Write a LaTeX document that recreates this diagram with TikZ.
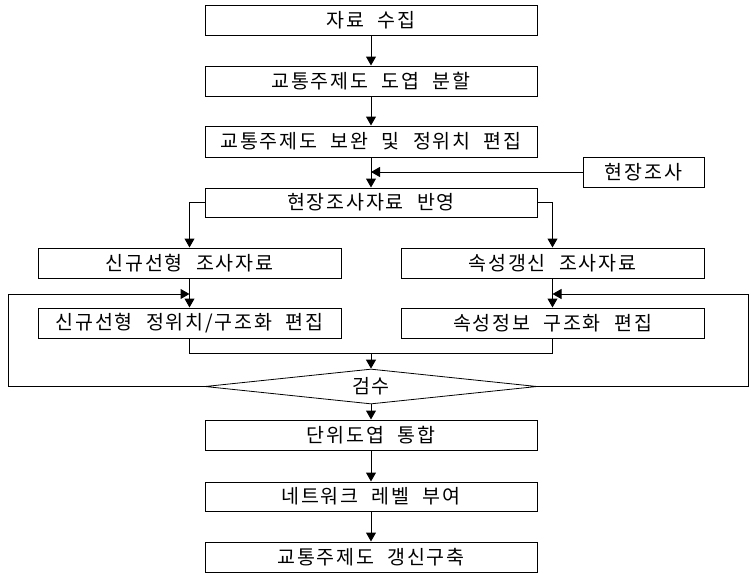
\documentclass[tikz,border=0pt]{standalone}
\usepackage{fontspec}
\setmainfont{Noto Sans CJK KR}[WordSpace=2.2,LetterSpace=9]
\usetikzlibrary{arrows.meta,shapes.geometric}
\begin{document}
\begin{tikzpicture}[x=1pt,y=-1pt,
  txt/.style={font=\fontsize{19.5}{21}\selectfont},
  box/.style={draw,line width=1pt,minimum height=30pt,inner sep=0pt,txt},
  wide/.style={box,minimum width=332pt},
  col/.style={box,minimum width=303pt},
  arr/.style={line width=1pt,-{Triangle[length=9pt,width=10pt]}},
  ln/.style={line width=1pt}]
\useasboundingbox (0,0) rectangle (752,579);
\node[wide] (b1) at (371,20) {자료 수집};
\node[wide] (b2) at (371,81) {교통주제도 도엽 분할};
\node[wide,minimum height=31pt] (b3) at (371,141.5) {교통주제도 보완 및 정위치 편집};
\node[box,minimum width=121pt] (bF) at (643.5,172) {현장조사};
\node[wide,minimum height=29pt] (b4) at (371,202.5) {현장조사자료 반영};
\node[col] (L1) at (189.5,263) {신규선형 조사자료};
\node[col] (L2) at (189.5,323) {신규선형 정위치/구조화 편집};
\node[col] (R1) at (552.5,263) {속성갱신 조사자료};
\node[col] (R2) at (552.5,323) {속성정보 구조화 편집};
\node[diamond,draw,line width=0.8pt,shape aspect=10,minimum width=332pt,minimum height=35pt,inner sep=0pt,txt] (dm) at (371,386.5) {검수};
\node[wide] (c1) at (371,435) {단위도엽 통합};
\node[wide,minimum height=29pt] (c2) at (371,496.5) {네트워크 레벨 부여};
\node[wide] (c3) at (371,557) {교통주제도 갱신구축};
\coordinate (j1) at (371,172);
\coordinate (m) at (371,353);
\coordinate (lA) at (8,386.5);
\coordinate (lB) at (8,294);
\coordinate (lT) at (189.5,294);
\coordinate (rA) at (748,386.5);
\coordinate (rB) at (748,294);
\coordinate (rT) at (552.5,294);
\draw[arr] (b1) -- (b2);
\draw[arr] (b2) -- (b3);
\draw[arr] (b3) -- (b4);
\draw[arr] (bF) -- (j1);
\draw[arr] (b4.west) -| (L1.north);
\draw[arr] (b4.east) -| (R1.north);
\draw[arr] (L1) -- (L2);
\draw[arr] (R1) -- (R2);
\draw[ln] (L2.south) |- (m);
\draw[ln] (R2.south) |- (m);
\draw[arr] (m) -- (dm.north);
\draw[arr] (dm.west) -- (lA) -- (lB) -- (lT);
\draw[arr] (dm.east) -- (rA) -- (rB) -- (rT);
\draw[arr] (dm) -- (c1);
\draw[arr] (c1) -- (c2);
\draw[arr] (c2) -- (c3);
\end{tikzpicture}
\end{document}
